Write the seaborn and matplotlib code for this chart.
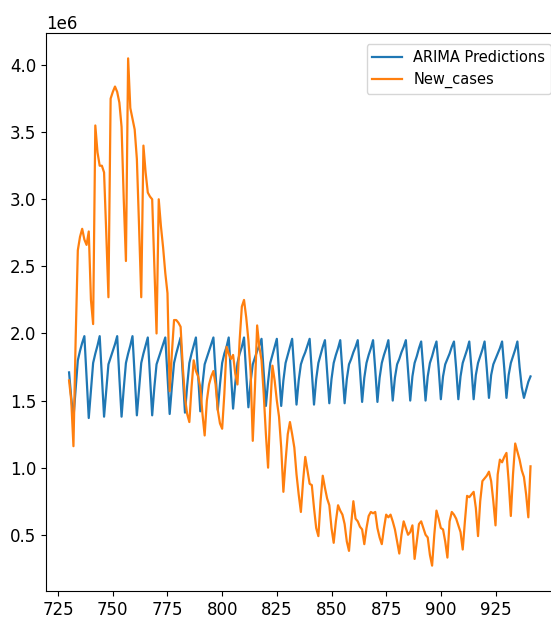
import numpy as np
import pandas as pd
import matplotlib
matplotlib.use("Agg")
import matplotlib.pyplot as plt
import seaborn as sns

# values in millions, one per day starting at day 730
start_day = 730

arima_pred = [
    1.71, 1.52, 1.37, 1.59, 1.80, 1.87, 1.93, 1.98,          # 730-737
    1.67, 1.37, 1.58, 1.78, 1.85, 1.91, 1.98,                # 738-744
    1.68, 1.38, 1.58, 1.77, 1.82, 1.87, 1.92, 1.98,          # 745-752
    1.67, 1.38, 1.59, 1.78, 1.85, 1.91, 1.98,                # 753-759
    1.68, 1.39, 1.59, 1.78, 1.85, 1.91, 1.97,                # 760-766
    1.68, 1.39, 1.60, 1.77, 1.82, 1.87, 1.92, 1.97,          # 767-774
    1.68, 1.40, 1.60, 1.78, 1.85, 1.91, 1.97,                # 775-781
    1.69, 1.41, 1.61, 1.78, 1.85, 1.91, 1.97,                # 782-788
    1.69, 1.42, 1.62, 1.77, 1.82, 1.87, 1.92, 1.97,          # 789-796
    1.70, 1.43, 1.62, 1.78, 1.85, 1.90, 1.97,                # 797-803
    1.70, 1.44, 1.63, 1.78, 1.85, 1.90, 1.97,                # 804-810
    1.70, 1.45, 1.64, 1.77, 1.82, 1.87, 1.91, 1.96,          # 811-818
    1.71, 1.46, 1.64, 1.78, 1.84, 1.90, 1.96,                # 819-825
    1.71, 1.46, 1.65, 1.78, 1.84, 1.90, 1.96,                # 826-832
    1.71, 1.47, 1.65, 1.77, 1.82, 1.86, 1.91, 1.96,          # 833-840
    1.72, 1.47, 1.66, 1.78, 1.84, 1.90, 1.95,                # 841-847
    1.72, 1.48, 1.66, 1.78, 1.84, 1.89, 1.95,                # 848-854
    1.72, 1.48, 1.66, 1.77, 1.81, 1.86, 1.90, 1.95,          # 855-862
    1.73, 1.49, 1.67, 1.78, 1.84, 1.89, 1.95,                # 863-869
    1.73, 1.49, 1.67, 1.78, 1.84, 1.89, 1.95,                # 870-876
    1.73, 1.50, 1.67, 1.77, 1.81, 1.86, 1.90, 1.95,          # 877-884
    1.73, 1.50, 1.68, 1.78, 1.83, 1.89, 1.94,                # 885-891
    1.73, 1.50, 1.68, 1.78, 1.83, 1.89, 1.94,                # 892-898
    1.74, 1.51, 1.68, 1.77, 1.81, 1.85, 1.90, 1.94,          # 899-906
    1.74, 1.51, 1.68, 1.78, 1.83, 1.88, 1.94,                # 907-913
    1.74, 1.51, 1.69, 1.78, 1.83, 1.88, 1.94,                # 914-920
    1.74, 1.52, 1.69, 1.77, 1.81, 1.85, 1.89, 1.94,          # 921-928
    1.74, 1.52, 1.69, 1.78, 1.83, 1.88, 1.94,                # 929-935
    1.75, 1.60, 1.52, 1.58, 1.64, 1.68,                      # 936-941
]

new_cases = [
    1.65, 1.50, 1.16, 1.95, 2.62, 2.72, 2.78, 2.70, 2.66, 2.76,  # 730
    2.25, 2.07, 3.55, 3.35, 3.25, 3.25, 3.20, 2.75, 2.27, 3.75,  # 740
    3.80, 3.84, 3.80, 3.72, 3.54, 3.00, 2.54, 4.05, 3.68, 3.60,  # 750
    3.52, 3.30, 2.80, 2.27, 3.40, 3.20, 3.05, 3.02, 3.00, 2.50,  # 760
    2.00, 3.00, 2.80, 2.64, 2.45, 2.30, 1.57, 1.85, 2.10, 2.10,  # 770
    2.08, 2.05, 1.75, 1.52, 1.40, 1.34, 1.60, 1.80, 1.72, 1.68,  # 780
    1.60, 1.40, 1.24, 1.50, 1.62, 1.68, 1.72, 1.62, 1.43, 1.33,  # 790
    1.29, 1.55, 1.90, 1.85, 1.81, 1.84, 1.70, 1.62, 1.95, 2.20,  # 800
    2.25, 2.12, 1.95, 1.72, 1.20, 1.60, 2.06, 1.90, 1.80, 1.55,  # 810
    1.25, 1.00, 1.45, 1.76, 1.65, 1.50, 1.38, 1.15, 0.82, 1.05,  # 820
    1.25, 1.34, 1.25, 1.15, 0.95, 0.80, 0.67, 0.90, 1.08, 0.98,  # 830
    0.88, 0.87, 0.70, 0.55, 0.49, 0.75, 0.94, 0.85, 0.77, 0.72,  # 840
    0.55, 0.44, 0.60, 0.72, 0.68, 0.65, 0.58, 0.45, 0.38, 0.58,  # 850
    0.75, 0.62, 0.60, 0.56, 0.54, 0.43, 0.55, 0.64, 0.67, 0.66,  # 860
    0.67, 0.55, 0.48, 0.43, 0.55, 0.65, 0.63, 0.65, 0.60, 0.54,  # 870
    0.45, 0.36, 0.50, 0.60, 0.55, 0.50, 0.52, 0.57, 0.32, 0.45,  # 880
    0.58, 0.60, 0.55, 0.50, 0.48, 0.35, 0.27, 0.50, 0.68, 0.62,  # 890
    0.55, 0.54, 0.45, 0.33, 0.60, 0.67, 0.65, 0.62, 0.57, 0.52,  # 900
    0.39, 0.60, 0.79, 0.78, 0.80, 0.82, 0.70, 0.49, 0.75, 0.90,  # 910
    0.92, 0.94, 0.97, 0.90, 0.75, 0.57, 0.95, 1.06, 1.04, 1.08,  # 920
    1.11, 0.90, 0.64, 0.95, 1.18, 1.12, 1.06, 0.98, 0.93, 0.80,  # 930
    0.63, 1.01,                                                  # 940
]

pred_df = pd.DataFrame({
    "day": np.arange(start_day, start_day + len(arima_pred)),
    "value": np.array(arima_pred) * 1e6,
})
cases_df = pd.DataFrame({
    "day": np.arange(start_day, start_day + len(new_cases)),
    "value": np.array(new_cases) * 1e6,
})

plt.rcParams["font.family"] = ["DejaVu Sans"]
plt.rcParams["font.size"] = 12

fig = plt.figure(figsize=(5.51, 6.26), dpi=100)
# axes runs a little past the right edge, as in the cropped original
ax = fig.add_axes([46 / 551, 35 / 626, 516 / 551, 558 / 626])

sns.lineplot(data=pred_df, x="day", y="value", ax=ax, color="#1f77b4",
             linewidth=1.6, label="ARIMA Predictions")
sns.lineplot(data=cases_df, x="day", y="value", ax=ax, color="#ff7f0e",
             linewidth=1.6, label="New_cases")

ax.set_xlabel("")
ax.set_ylabel("")
ax.set_xlim(719.45, 955.4)
ax.set_xticks([725, 750, 775, 800, 825, 850, 875, 900, 925])
ax.legend(loc="upper right", fontsize=10.5, borderaxespad=0.75)

fig.savefig("out.png", dpi=100)
